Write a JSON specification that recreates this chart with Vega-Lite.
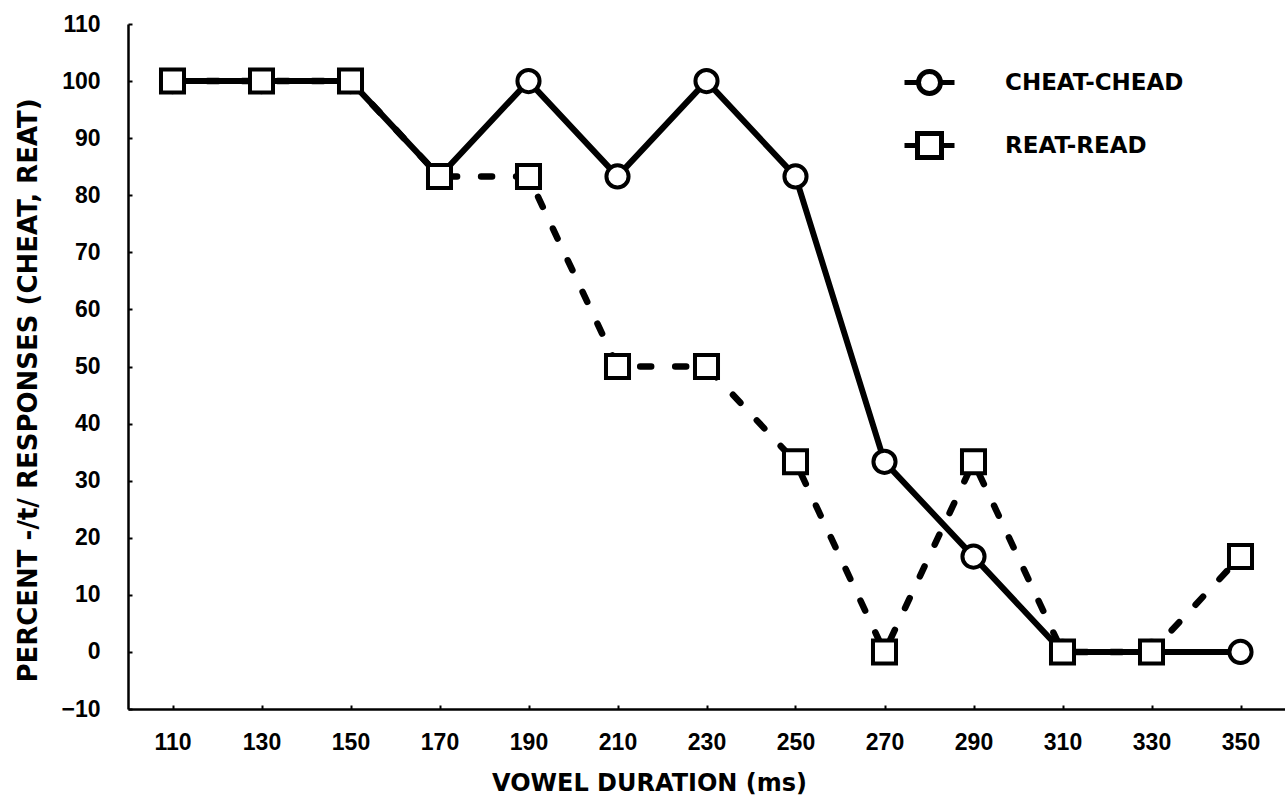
{
  "$schema": "https://vega.github.io/schema/vega-lite/v6.json",
  "width": 1157,
  "height": 685,
  "autosize": {"type": "none"},
  "padding": {"left": 128, "top": 24, "right": 0, "bottom": 93},
  "background": "white",
  "config": {
    "view": {"stroke": null},
    "font": "DejaVu Sans",
    "axis": {
      "grid": false,
      "domainColor": "black",
      "domainWidth": 2.5,
      "tickColor": "black",
      "tickWidth": 2,
      "labelFont": "Liberation Sans",
      "labelFontWeight": "bold",
      "labelFontSize": 23,
      "labelColor": "black",
      "titleFont": "DejaVu Sans",
      "titleFontWeight": "bold",
      "titleColor": "black"
    }
  },
  "data": {
    "values": [
      {"dur": 110, "pct": 100, "series": "CHEAT-CHEAD"},
      {"dur": 130, "pct": 100, "series": "CHEAT-CHEAD"},
      {"dur": 150, "pct": 100, "series": "CHEAT-CHEAD"},
      {"dur": 170, "pct": 83.3, "series": "CHEAT-CHEAD"},
      {"dur": 190, "pct": 100, "series": "CHEAT-CHEAD"},
      {"dur": 210, "pct": 83.3, "series": "CHEAT-CHEAD"},
      {"dur": 230, "pct": 100, "series": "CHEAT-CHEAD"},
      {"dur": 250, "pct": 83.3, "series": "CHEAT-CHEAD"},
      {"dur": 270, "pct": 33.3, "series": "CHEAT-CHEAD"},
      {"dur": 290, "pct": 16.7, "series": "CHEAT-CHEAD"},
      {"dur": 310, "pct": 0, "series": "CHEAT-CHEAD"},
      {"dur": 330, "pct": 0, "series": "CHEAT-CHEAD"},
      {"dur": 350, "pct": 0, "series": "CHEAT-CHEAD"},
      {"dur": 110, "pct": 100, "series": "REAT-READ"},
      {"dur": 130, "pct": 100, "series": "REAT-READ"},
      {"dur": 150, "pct": 100, "series": "REAT-READ"},
      {"dur": 170, "pct": 83.3, "series": "REAT-READ"},
      {"dur": 190, "pct": 83.3, "series": "REAT-READ"},
      {"dur": 210, "pct": 50, "series": "REAT-READ"},
      {"dur": 230, "pct": 50, "series": "REAT-READ"},
      {"dur": 250, "pct": 33.3, "series": "REAT-READ"},
      {"dur": 270, "pct": 0, "series": "REAT-READ"},
      {"dur": 290, "pct": 33.3, "series": "REAT-READ"},
      {"dur": 310, "pct": 0, "series": "REAT-READ"},
      {"dur": 330, "pct": 0, "series": "REAT-READ"},
      {"dur": 350, "pct": 16.7, "series": "REAT-READ"}
    ]
  },
  "encoding": {
    "x": {
      "field": "dur",
      "type": "quantitative",
      "scale": {"domain": [100, 360], "nice": false, "zero": false},
      "axis": {
        "values": [110, 130, 150, 170, 190, 210, 230, 250, 270, 290, 310, 330, 350],
        "tickSize": -4,
        "labelPadding": 26,
        "title": "VOWEL DURATION (ms)",
        "titleFontSize": 24,
        "titleX": 521,
        "titleY": 74,
        "titleBaseline": "middle",
        "titleAlign": "center"
      }
    },
    "y": {
      "field": "pct",
      "type": "quantitative",
      "scale": {"domain": [-10, 110], "nice": false, "zero": false},
      "axis": {
        "values": [-10, 0, 10, 20, 30, 40, 50, 60, 70, 80, 90, 100, 110],
        "tickSize": -4,
        "labelPadding": 32,
        "title": "PERCENT -/t/ RESPONSES (CHEAT, REAT)",
        "titleFontSize": 26,
        "titleX": -100,
        "titleY": 366,
        "titleAngle": 270,
        "titleBaseline": "middle",
        "titleAlign": "center"
      }
    }
  },
  "layer": [
    {
      "transform": [{"filter": "datum.series === 'CHEAT-CHEAD'"}],
      "mark": {"type": "line", "color": "black", "strokeWidth": 6, "strokeJoin": "round"},
      "encoding": {}
    },
    {
      "transform": [{"filter": "datum.series === 'REAT-READ'"}],
      "mark": {"type": "line", "color": "black", "strokeWidth": 6.5, "strokeCap": "round", "strokeDash": [11, 24]},
      "encoding": {}
    },
    {
      "transform": [{"filter": "datum.series === 'CHEAT-CHEAD'"}],
      "mark": {"type": "point", "shape": "circle", "filled": true, "fill": "white", "stroke": "black", "strokeWidth": 4, "size": 490, "opacity": 1}
    },
    {
      "transform": [{"filter": "datum.series === 'REAT-READ'"}],
      "mark": {"type": "point", "shape": "square", "filled": true, "fill": "white", "stroke": "black", "strokeWidth": 4, "size": 530, "opacity": 1}
    },
    {
      "transform": [{"filter": "datum.pct > 1000"}],
      "mark": {"type": "point", "filled": false, "color": "black", "strokeWidth": 5, "opacity": 1},
      "encoding": {
        "shape": {
          "field": "series",
          "type": "nominal",
          "scale": {
            "domain": ["CHEAT-CHEAD", "REAT-READ"],
            "range": [
              "M-1,0L-0.44,0M0.44,0L1,0M0.44,0A0.44,0.44,0,1,1,-0.44,0A0.44,0.44,0,1,1,0.44,0Z",
              "M-1,0L-0.48,0M0.48,0L1,0M-0.48,-0.48L0.48,-0.48L0.48,0.48L-0.48,0.48Z"
            ]
          },
          "legend": {
            "title": null,
            "orient": "none",
            "legendX": 774,
            "legendY": 31,
            "symbolSize": 2500,
            "symbolStrokeWidth": 5,
            "symbolStrokeColor": "black",
            "symbolOpacity": 1,
            "labelFont": "DejaVu Sans",
            "labelFontWeight": "bold",
            "labelFontSize": 23,
            "labelColor": "black",
            "labelOffset": 48,
            "rowPadding": 14,
            "labelLimit": 400
          }
        }
      }
    }
  ]
}
